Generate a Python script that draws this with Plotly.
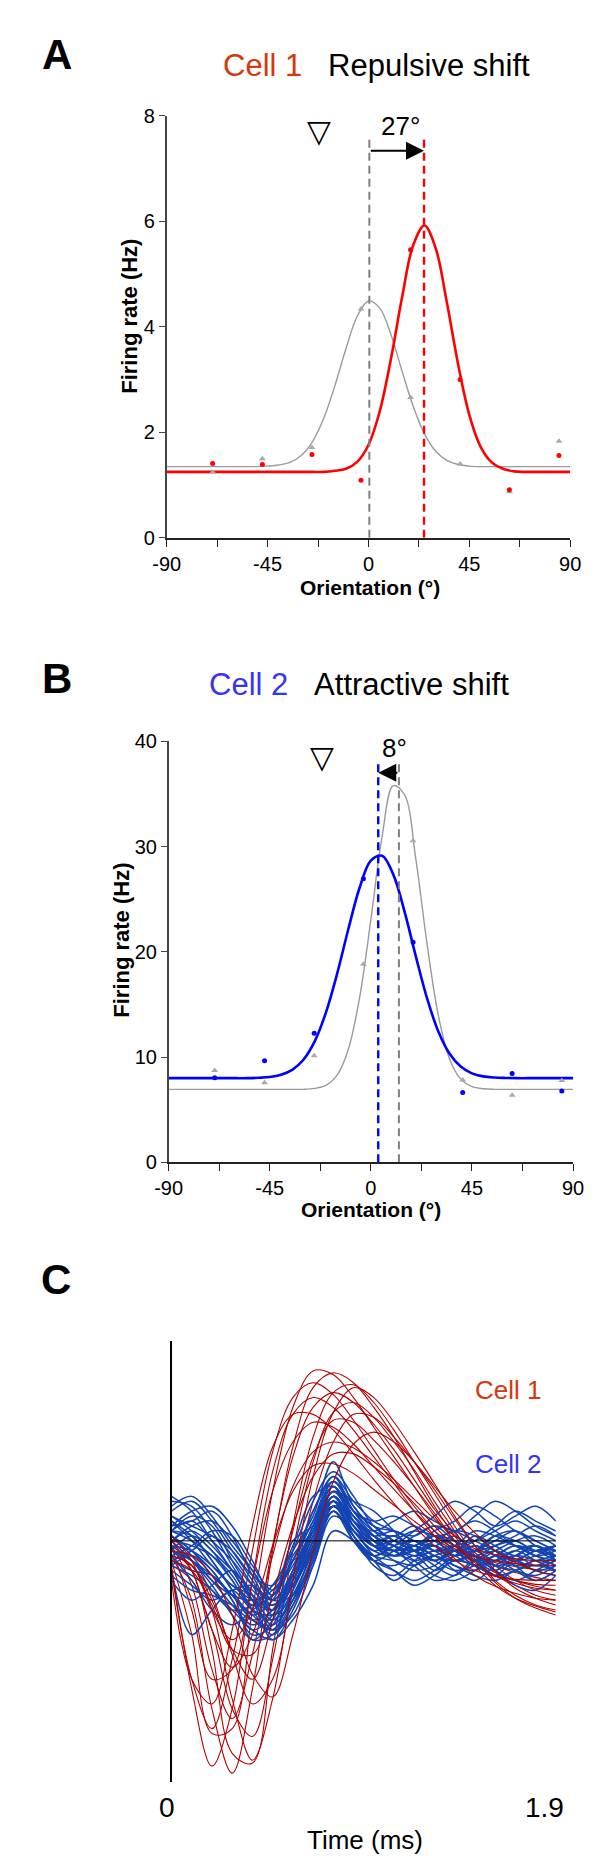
import plotly.graph_objects as go

# ---------------- data ----------------
# Panel A / B : stimulus orientations (deg) and measured firing rates (Hz)
orient = [-69.5, -47.3, -25.2, -3.3, 18.8, 40.9, 62.9, 85.0]
a_cell1_rate = [1.41, 1.39, 1.58, 1.09, 5.46, 3.00, 0.91, 1.56]
a_ctrl_rate = [1.25, 1.50, 1.71, 4.34, 2.66, 1.40, 0.875, 1.83]
b_cell2_rate = [8.04, 9.66, 12.26, 26.96, 20.92, 6.63, 8.44, 6.79]
b_ctrl_rate = [8.73, 7.57, 10.13, 18.83, 30.55, 7.82, 6.38, 7.79]

# fitted tuning curves, read every 5 deg
fit_x = [-90, -85, -80, -75, -70, -65, -60, -55, -50, -45, -40, -35, -30, -25, -20,
         -15, -10, -5, 0, 5, 10, 15, 20, 25, 30, 35, 40, 45, 50, 55, 60, 65, 70, 75,
         80, 85, 90]
a_ctrl_fit = [1.35, 1.35, 1.35, 1.35, 1.35, 1.35, 1.35, 1.35, 1.35, 1.36, 1.38, 1.43,
              1.56, 1.82, 2.26, 2.88, 3.59, 4.20, 4.49, 4.36, 3.86, 3.16, 2.49, 1.97,
              1.64, 1.47, 1.39, 1.36, 1.35, 1.35, 1.35, 1.35, 1.35, 1.35, 1.35, 1.35, 1.35]
a_cell1_fit = [1.25, 1.25, 1.25, 1.25, 1.25, 1.25, 1.25, 1.25, 1.25, 1.25, 1.25, 1.25,
               1.25, 1.25, 1.25, 1.27, 1.31, 1.44, 1.76, 2.39, 3.38, 4.56, 5.55, 5.92,
               5.49, 4.46, 3.29, 2.33, 1.73, 1.43, 1.31, 1.26, 1.25, 1.25, 1.25, 1.25, 1.25]
b_ctrl_fit = [6.94, 6.94, 6.94, 6.94, 6.94, 6.94, 6.94, 6.94, 6.94, 6.94, 6.94, 6.94,
              6.94, 7.03, 7.32, 8.29, 10.75, 15.66, 23.04, 30.94, 35.79, 34.93, 28.87,
              20.80, 14.01, 9.85, 7.91, 7.20, 7.00, 6.94, 6.94, 6.94, 6.94, 6.94, 6.94,
              6.94, 6.94]
b_cell2_fit = [8.0, 8.0, 8.0, 8.0, 8.0, 8.0, 8.0, 8.0, 8.04, 8.11, 8.32, 8.79, 9.75,
               11.49, 14.23, 17.93, 22.17, 26.09, 28.67, 29.13, 27.34, 23.83, 19.60,
               15.60, 12.46, 10.34, 9.10, 8.46, 8.17, 8.06, 8.02, 8.0, 8.0, 8.0, 8.0,
               8.0, 8.0]

# preferred orientations (dashed lines) and their heights
a_pref_ctrl, a_pref_cell1, a_line_top = 0.4, 24.8, 7.56
b_pref_ctrl, b_pref_cell2, b_line_top = 12.5, 3.3, 38.06
a_shift_label, b_shift_label = "27°", "8°"

# Panel C : spike waveforms (arbitrary units), sampled every 0.1 ms
t_ms = [0.0, 0.1, 0.2, 0.3, 0.4, 0.5, 0.6, 0.7, 0.8, 0.9, 1.0, 1.1, 1.2, 1.3, 1.4,
        1.5, 1.6, 1.7, 1.8, 1.9]
cell1_waves = [
    [-15, -60, -170, -235, -150, -10, 95, 155, 170, 160, 135, 105, 70, 35, 5, -20, -35, -45, -55, -60],
    [-10, -30, -110, -215, -225, -110, 15, 105, 150, 158, 140, 112, 80, 48, 15, -15, -40, -55, -65, -70],
    [-20, -95, -195, -190, -70, 50, 135, 172, 168, 145, 115, 85, 55, 25, 0, -20, -32, -40, -46, -50],
    [-5, -45, -130, -180, -115, -5, 85, 135, 150, 140, 118, 92, 62, 32, 8, -12, -25, -32, -37, -40],
    [-25, -40, -90, -170, -198, -120, -10, 80, 130, 140, 125, 100, 72, 40, 10, -18, -42, -58, -68, -75],
    [-10, -20, -55, -115, -165, -140, -50, 40, 100, 128, 125, 105, 80, 52, 22, -5, -25, -40, -50, -55],
    [-30, -140, -190, -120, -10, 90, 145, 160, 148, 122, 92, 62, 35, 10, -10, -25, -35, -40, -44, -45],
    [-5, -70, -140, -130, -40, 50, 100, 120, 115, 98, 75, 52, 30, 10, -5, -15, -22, -26, -29, -30],
    [0, -30, -90, -128, -95, -15, 55, 90, 100, 94, 80, 62, 42, 22, 5, -8, -14, -18, -20, -20],
    [-15, -25, -70, -160, -222, -160, -40, 65, 130, 155, 145, 120, 90, 58, 25, -5, -30, -48, -58, -65],
    [-10, -15, -35, -75, -135, -158, -95, -10, 60, 98, 110, 100, 80, 55, 30, 8, -10, -22, -30, -35],
    [5, -20, -70, -100, -70, -5, 50, 76, 78, 68, 52, 36, 20, 5, -8, -16, -20, -23, -25, -25],
    [-20, -30, -65, -110, -115, -55, 15, 65, 88, 88, 75, 58, 38, 15, -5, -22, -35, -43, -48, -50],
    [-25, -150, -228, -170, -40, 70, 128, 145, 135, 112, 85, 58, 30, 5, -18, -35, -46, -53, -58, -60],
    [-15, -25, -60, -110, -140, -80, 10, 85, 122, 120, 102, 80, 55, 28, 0, -25, -45, -58, -66, -72],
    [-40, -140, -165, -90, 15, 95, 128, 128, 112, 88, 62, 38, 15, -5, -20, -30, -36, -39, -40, -40],
]
cell2_waves = [
    [10, 5, -20, -50, -75, -60, -20, 20, 55, 15, -5, 0, -10, -5, -15, -10, -20, -15, -25, -20],
    [-20, -30, -35, -55, -80, -90, -50, 0, 45, 10, -10, -15, -5, -20, -10, -25, -15, -20, -10, -15],
    [30, 40, 20, -10, -40, -70, -15, 10, 40, 20, 5, 10, 0, -5, 5, -10, 0, -5, -15, -10],
    [-40, -60, -45, -30, -60, -100, -70, -20, 30, 0, -20, -25, -15, -30, -20, -25, -35, -20, -30, -25],
    [5, -10, -30, -60, -90, -75, -30, 15, 60, 30, 10, 5, 15, 0, -10, 5, -5, -15, -5, -20],
    [40, 35, 10, -25, -55, -80, -60, -15, 35, 5, -15, -5, 0, -10, -20, -10, 0, 10, -5, -10],
    [-10, -25, -50, -70, -65, -45, -10, 25, 80, 35, 15, 10, 5, 15, 0, -10, -5, 0, -10, -5],
    [15, 20, 30, 5, -35, -65, -40, 5, 50, 25, 0, -10, -20, -15, -25, -30, -20, -10, -20, -30],
    [-25, -15, -30, -60, -95, -85, -40, 5, 40, 5, -25, -35, -20, -10, -15, -5, -15, -25, -20, -15],
    [0, 10, -5, -30, -60, -85, -55, -10, 45, 20, 10, 20, 30, 20, 10, 25, 40, 30, 15, 5],
    [20, 0, -25, -45, -55, -70, -45, -5, 40, 15, -5, 5, -10, -20, -5, 0, 10, 20, 10, 0],
    [-15, -40, -70, -85, -70, -55, -25, 10, 50, 20, -5, -20, -30, -25, -10, -15, -30, -40, -30, -20],
    [35, 45, 25, -5, -30, -55, 0, 15, 35, 10, -10, 0, 10, 5, -5, -15, -5, 5, 15, 5],
    [-5, -20, -40, -65, -85, -70, -35, 10, 55, 25, 5, -5, -15, -5, -20, -15, -25, -30, -35, -25],
    [10, 25, 15, -20, -55, -90, -75, -25, 30, 5, -15, -20, -25, -15, -10, -20, -30, -15, -5, -15],
    [-30, -45, -60, -50, -45, -60, -30, 15, 60, 30, 15, 0, -10, -25, -35, -20, -10, -20, -30, -35],
    [0, -5, -15, -35, -70, -95, -65, -15, 45, 20, 0, 5, -5, 10, 20, 35, 25, 10, 0, -10],
    [25, 10, -10, -30, -50, -65, -40, 0, 40, 5, -20, -30, -40, -30, -15, -5, -15, -25, -40, -30],
    [-20, -10, 5, -15, -45, -75, -55, -10, 35, 10, -5, -10, 0, -5, -15, -25, -20, -10, -5, -20],
    [5, -15, -40, -55, -60, -50, -20, 20, 65, 40, 20, 10, 0, -10, -5, 10, 5, -5, -15, -25],
    [-35, -50, -55, -65, -80, -70, -35, 5, 45, 15, -5, -15, -10, -20, -30, -25, -15, -5, -15, -20],
    [15, 30, 35, 15, -20, -55, -20, -10, 35, 10, -5, -15, -5, 0, -10, -20, -10, 0, 5, -5],
    [-10, -20, -35, -55, -75, -90, -60, -5, 50, 25, 5, -5, -20, -35, -40, -30, -20, -30, -40, -30],
    [10, 0, -15, -40, -70, -80, -50, -5, 40, 0, -20, -10, 5, 15, 10, 0, -10, -20, -25, -15],
    [-30, -95, -70, -50, -70, -75, -45, 0, 45, 15, 0, -5, -15, -10, -5, -15, -25, -20, -10, -5],
    [0, 15, 20, 0, -30, -60, -55, -15, 40, 15, -5, -10, -25, -40, -35, -20, -30, -45, -50, -35],
    [20, 5, -20, -50, -100, -80, -35, 10, 55, 20, 0, -10, -5, 5, -5, -20, -15, -5, -10, -20],
    [-5, -10, -25, -45, -60, -65, -45, -10, 30, 0, -15, -5, 10, 25, 40, 30, 15, 25, 35, 20],
    [45, 30, 0, -30, -60, -70, -30, 30, 60, 35, 10, -5, -10, 0, 10, 5, -10, -20, -15, -5],
    [-15, -5, 10, 5, -25, -50, -10, 40, 70, 45, 15, 0, -5, -15, -20, -10, 5, 0, -10, -15],
    [0, -20, -45, -75, -100, -95, -65, -25, 25, 10, -15, -30, -45, -35, -20, -25, -35, -30, -20, -25],
    [25, 15, 5, -10, -35, -45, -5, 45, 55, 30, 20, 25, 15, 5, 10, 20, 10, -5, -10, -5],
    [-25, -35, -50, -70, -90, -100, -80, -45, 10, 0, -20, -40, -25, -15, -30, -40, -25, -15, -20, -30],
    [10, 20, 0, -20, -45, -60, -35, 15, 50, 40, 30, 10, -10, -20, -10, 0, 15, 30, 20, 10],
    [-10, 5, -10, -40, -65, -55, -20, 30, 65, 30, 5, -10, -5, -15, -25, -35, -40, -30, -25, -30],
    [5, -10, -35, -55, -80, -85, -60, -20, 35, 25, 0, -15, -10, 5, 0, -10, 5, 10, 0, -10],
]

# ---------------- styling ----------------
FONT = "Liberation Sans, Arial, sans-serif"
W, H = 600, 1867
RED, BLUE, GRAY = "#ff0000", "#0000ff", "#9a9a9a"
C1_TXT, C2_TXT = "#d4380d", "#3535f0"
WAVE_RED, WAVE_BLUE = "rgb(178,0,0)", "rgb(20,68,178)"


def px_x(p):
    return p / W


def px_y(p):
    return 1 - p / H


fig = go.Figure()

# ---------- Panel A ----------
fig.add_trace(go.Scatter(x=fit_x, y=a_ctrl_fit, mode="lines", line=dict(color=GRAY, width=1.4, shape="spline"),
                         xaxis="x", yaxis="y"))
fig.add_trace(go.Scatter(x=fit_x, y=a_cell1_fit, mode="lines", line=dict(color=RED, width=2.6, shape="spline"),
                         xaxis="x", yaxis="y"))
fig.add_trace(go.Scatter(x=[a_pref_ctrl, a_pref_ctrl], y=[0, a_line_top], mode="lines",
                         line=dict(color="#7f7f7f", width=2, dash="8px,5px"), xaxis="x", yaxis="y"))
fig.add_trace(go.Scatter(x=[a_pref_cell1, a_pref_cell1], y=[0, a_line_top], mode="lines",
                         line=dict(color=RED, width=2.4, dash="8px,5px"), xaxis="x", yaxis="y"))
fig.add_trace(go.Scatter(x=orient, y=a_ctrl_rate, mode="markers",
                         marker=dict(symbol="triangle-up", size=6, color="#a8a8a8"), xaxis="x", yaxis="y"))
fig.add_trace(go.Scatter(x=orient, y=a_cell1_rate, mode="markers",
                         marker=dict(symbol="circle", size=5, color=RED), xaxis="x", yaxis="y"))

# ---------- Panel B ----------
fig.add_trace(go.Scatter(x=fit_x, y=b_ctrl_fit, mode="lines", line=dict(color=GRAY, width=1.4, shape="spline"),
                         xaxis="x2", yaxis="y2"))
fig.add_trace(go.Scatter(x=fit_x, y=b_cell2_fit, mode="lines", line=dict(color=BLUE, width=2.6, shape="spline"),
                         xaxis="x2", yaxis="y2"))
fig.add_trace(go.Scatter(x=[b_pref_ctrl, b_pref_ctrl], y=[0, b_line_top], mode="lines",
                         line=dict(color="#7f7f7f", width=2, dash="8px,5px"), xaxis="x2", yaxis="y2"))
fig.add_trace(go.Scatter(x=[b_pref_cell2, b_pref_cell2], y=[0, b_line_top], mode="lines",
                         line=dict(color=BLUE, width=2.4, dash="8px,5px"), xaxis="x2", yaxis="y2"))
fig.add_trace(go.Scatter(x=orient, y=b_ctrl_rate, mode="markers",
                         marker=dict(symbol="triangle-up", size=6, color="#a8a8a8"), xaxis="x2", yaxis="y2"))
fig.add_trace(go.Scatter(x=orient, y=b_cell2_rate, mode="markers",
                         marker=dict(symbol="circle", size=5, color=BLUE), xaxis="x2", yaxis="y2"))

# ---------- Panel C ----------
half = len(cell1_waves) // 2
for w in cell1_waves[:half]:
    fig.add_trace(go.Scatter(x=t_ms, y=w, mode="lines", line=dict(color=WAVE_RED, width=1.1, shape="spline"),
                             xaxis="x3", yaxis="y3"))
for w in cell2_waves:
    fig.add_trace(go.Scatter(x=t_ms, y=w, mode="lines", line=dict(color=WAVE_BLUE, width=1.5, shape="spline"),
                             xaxis="x3", yaxis="y3"))
for w in cell1_waves[half:]:
    fig.add_trace(go.Scatter(x=t_ms, y=w, mode="lines", line=dict(color=WAVE_RED, width=1.1, shape="spline"),
                             xaxis="x3", yaxis="y3"))

# ---------- axes ----------
xt = [-90, -67.5, -45, -22.5, 0, 22.5, 45, 67.5, 90]
xtt = ["-90", "", "-45", "", "0", "", "45", "", "90"]
common_x = dict(range=[-90, 90], tickvals=xt, ticktext=xtt, ticks="outside", ticklen=7, tickwidth=1.3,
                tickcolor="#222", showline=True, linecolor="#222", linewidth=1.5, showgrid=False,
                zeroline=False, tickfont=dict(family=FONT, size=20, color="#000"), fixedrange=True)
common_y = dict(ticks="outside", ticklen=6, tickwidth=1.3, tickcolor="#444", showline=True,
                linecolor="#444", linewidth=1.5, showgrid=False, zeroline=False,
                tickfont=dict(family=FONT, size=20, color="#000"), fixedrange=True)

fig.update_layout(
    xaxis=dict(domain=[px_x(151), px_x(572)], anchor="y", **common_x),
    yaxis=dict(domain=[px_y(525), px_y(98)], anchor="x", range=[0, 8], tickvals=[0, 2, 4, 6, 8], **common_y),
    xaxis2=dict(domain=[px_x(153), px_x(575)], anchor="y2", **common_x),
    yaxis2=dict(domain=[px_y(1157), px_y(731)], anchor="x2", range=[0, 40], tickvals=[0, 10, 20, 30, 40],
                **common_y),
    xaxis3=dict(domain=[px_x(156), px_x(557)], anchor="y3", range=[0, 1.9], visible=False, fixedrange=True),
    yaxis3=dict(domain=[px_y(1784), px_y(1338)], anchor="x3", range=[-244, 202], showline=True,
                linecolor="#000", linewidth=2, showticklabels=False, ticks="", showgrid=False,
                zeroline=False, fixedrange=True),
)

shapes = [dict(type="line", xref="x3 domain", yref="y3", x0=0, x1=1, y0=0, y1=0,
               line=dict(color="#000", width=1), layer="above")]

ann = []


def text(x, y, s, size, color="#000", bold=False, angle=0, family=FONT):
    ann.append(dict(x=px_x(x), y=px_y(y), xref="paper", yref="paper", text=("<b>%s</b>" % s) if bold else s,
                    showarrow=False, xanchor="center", yanchor="middle", textangle=angle,
                    font=dict(family=family, size=size, color=color)))


# panel letters
text(36, 36, "A", 42, bold=True)
text(36, 667, "B", 42, bold=True)
text(35, 1276, "C", 42, bold=True)

# titles
sp = "\u00a0\u00a0\u00a0"
text(370, 47, "<span style='color:%s'>Cell 1</span>%sRepulsive shift" % (C1_TXT, sp), 31)
text(352, 673, "<span style='color:%s'>Cell 2</span>%sAttractive shift" % (C2_TXT, sp), 31)

# axis titles
text(363, 575, "Orientation (°)", 21, bold=True)
text(364, 1205, "Orientation (°)", 21, bold=True)
text(112, 301, "Firing rate (Hz)", 22, bold=True, angle=-90)
text(103, 932, "Firing rate (Hz)", 22, bold=True, angle=-90)

# panel C labels
text(151, 1810, "0", 28)
text(545, 1810, "1.9", 28)
text(358, 1843, "Time (ms)", 26)
text(507, 1387, "Cell 1", 26, color=C1_TXT)
text(507, 1462, "Cell 2", 26, color=C2_TXT)

# shift annotations (data coordinates)
ann.append(dict(x=a_pref_cell1, y=7.34, ax=a_pref_ctrl, ay=7.34, xref="x", yref="y", axref="x", ayref="y",
                text="", showarrow=True, arrowhead=2, arrowsize=1.8, arrowwidth=2, arrowcolor="#000"))
ann.append(dict(x=14.2, y=7.8, xref="x", yref="y", text=a_shift_label, showarrow=False,
                font=dict(family=FONT, size=26, color="#000")))
ann.append(dict(x=-22.1, y=7.72, xref="x", yref="y", text="▽", showarrow=False,
                font=dict(family="DejaVu Sans", size=31, color="#000")))

ann.append(dict(x=b_pref_cell2, y=37.03, ax=b_pref_ctrl, ay=37.03, xref="x2", yref="y2", axref="x2", ayref="y2",
                text="", showarrow=True, arrowhead=2, arrowsize=1.8, arrowwidth=2, arrowcolor="#000"))
ann.append(dict(x=10.4, y=39.4, xref="x2", yref="y2", text=b_shift_label, showarrow=False,
                font=dict(family=FONT, size=26, color="#000")))
ann.append(dict(x=-21.6, y=38.5, xref="x2", yref="y2", text="▽", showarrow=False,
                font=dict(family="DejaVu Sans", size=31, color="#000")))

fig.update_layout(width=W, height=H, autosize=False, margin=dict(l=0, r=0, t=0, b=0),
                  paper_bgcolor="white", plot_bgcolor="white", showlegend=False,
                  annotations=ann, shapes=shapes, font=dict(family=FONT))

fig.write_html("out.html")
